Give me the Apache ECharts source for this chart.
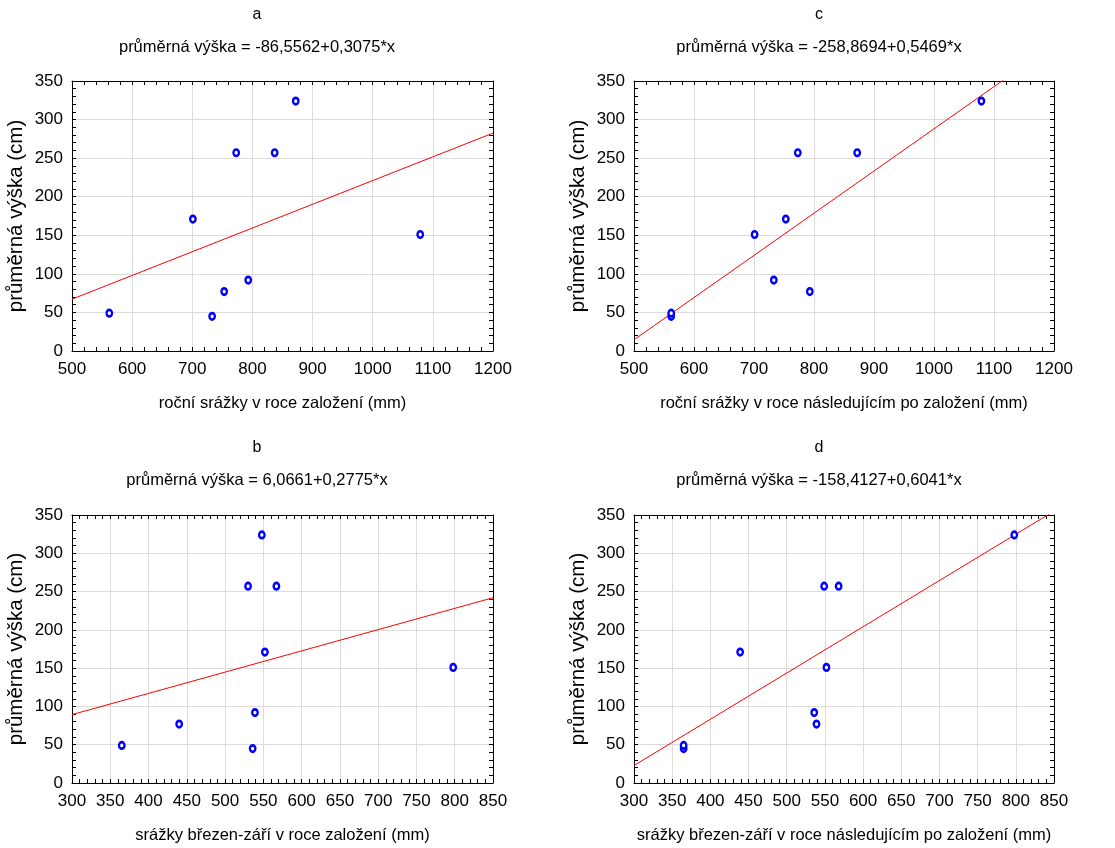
<!DOCTYPE html>
<html>
<head>
<meta charset="utf-8">
<script src="https://cdn.jsdelivr.net/npm/echarts@6/dist/echarts.min.js"></script>
<style>
  html, body { margin: 0; padding: 0; background: #fff; }
  #chart { width: 1115px; height: 848px; }
</style>
</head>
<body>
<div id="chart"></div>
<script>
// Average height of the plantings (cm), same planting order in every panel
const heights = [45, 49, 77, 92, 151, 171, 257, 257, 324];

// Precipitation (mm) for each planting, one list per panel
const rainYearOfPlanting = [733, 562, 753, 793, 1079, 701, 773, 837, 872];       // a
const rainMarSepYearOfPlanting = [536, 365, 440, 539, 798, 552, 530, 567, 548];  // b
const rainYearAfterPlanting = [562, 562, 793, 733, 701, 753, 773, 872, 1079];    // c
const rainMarSepYearAfter = [365, 365, 539, 536, 552, 439, 549, 568, 798];       // d

// Fitted regressions: průměrná výška = intercept + slope * x
const panelLetters = ['a', 'c', 'b', 'd'];
const intercepts = [-86.5562, -258.8694, 6.0661, -158.4127];
const slopes = [0.3075, 0.5469, 0.2775, 0.6041];

// Axis ranges and tick steps
const xMins = [500, 500, 300, 300];
const xMaxs = [1200, 1200, 850, 850];
const xSteps = [100, 100, 50, 50];
const yMin = 0, yMax = 350, yStep = 50;

const xTitles = [
  'roční srážky v roce založení (mm)',
  'roční srážky v roce následujícím po založení (mm)',
  'srážky březen-září v roce založení (mm)',
  'srážky březen-září v roce následujícím po založení (mm)'
];
const yTitle = 'průměrná výška (cm)';
const xSeries = [rainYearOfPlanting, rainYearAfterPlanting, rainMarSepYearOfPlanting, rainMarSepYearAfter];

const FONT = '"Liberation Sans", Arial, sans-serif';

const grids = [
  { left: 72, top: 81, width: 421, height: 270 },
  { left: 634, top: 81, width: 420, height: 270 },
  { left: 72, top: 515, width: 421, height: 268 },
  { left: 634, top: 515, width: 420, height: 268 }
];
const headerX = [257, 819, 257, 819];
const headerY = [15, 15, 448, 448];

const tickCommon = {
  axisLine: { show: true, onZero: false, lineStyle: { color: '#000', width: 1 } },
  axisTick: { show: true, inside: true, length: 4, lineStyle: { color: '#000', width: 1 } },
  minorTick: { show: true, splitNumber: 5, length: 4, lineStyle: { color: '#000', width: 1 } }
};

const plain = v => String(v);

const xAxis = [], yAxis = [], series = [], graphic = [];

function fmt(v) { return v.toFixed(4).replace('.', ','); }

for (let i = 0; i < 4; i++) {
  // bottom axis with labels and title
  xAxis.push(Object.assign({
    type: 'value', gridIndex: i, position: 'bottom',
    min: xMins[i], max: xMaxs[i], interval: xSteps[i],
    axisLabel: { margin: 10, color: '#000', fontSize: 17, fontFamily: FONT, formatter: plain },
    splitLine: { show: true, lineStyle: { color: '#dcdcdc', width: 1 } },
    name: xTitles[i], nameLocation: 'middle', nameGap: 44,
    nameTextStyle: { color: '#000', fontSize: 16.5, fontFamily: FONT }
  }, tickCommon));
  // top frame axis, ticks only
  xAxis.push(Object.assign({
    type: 'value', gridIndex: i, position: 'top',
    min: xMins[i], max: xMaxs[i], interval: xSteps[i],
    axisLabel: { show: false }, splitLine: { show: false }
  }, tickCommon));
  // left axis with labels and title
  yAxis.push(Object.assign({
    type: 'value', gridIndex: i, position: 'left',
    min: yMin, max: yMax, interval: yStep,
    axisLabel: { margin: 9, color: '#000', fontSize: 17, fontFamily: FONT, formatter: plain },
    splitLine: { show: true, lineStyle: { color: '#dcdcdc', width: 1 } },
    name: yTitle, nameLocation: 'middle', nameGap: 45, nameRotate: 90,
    nameTextStyle: { color: '#000', fontSize: 20.5, fontFamily: FONT }
  }, tickCommon));
  // right frame axis, ticks only
  yAxis.push(Object.assign({
    type: 'value', gridIndex: i, position: 'right',
    min: yMin, max: yMax, interval: yStep,
    axisLabel: { show: false }, splitLine: { show: false }
  }, tickCommon));

  // regression line from the stated equation
  const x0 = xMins[i], x1 = xMaxs[i];
  series.push({
    type: 'line', xAxisIndex: 2 * i, yAxisIndex: 2 * i,
    data: [[x0, intercepts[i] + slopes[i] * x0], [x1, intercepts[i] + slopes[i] * x1]],
    symbol: 'none', clip: true, silent: true, z: 2,
    lineStyle: { color: '#ff0000', width: 1 }
  });
  // observations
  series.push({
    type: 'scatter', xAxisIndex: 2 * i, yAxisIndex: 2 * i,
    data: xSeries[i].map((x, k) => [x, heights[k]]),
    symbol: 'circle', symbolSize: [5.5, 6.5], z: 3,
    itemStyle: { color: '#ffffff', borderColor: '#0000ff', borderWidth: 2.5, opacity: 1 }
  });

  // panel letter and equation
  graphic.push({
    type: 'text', x: headerX[i], y: headerY[i],
    style: { text: panelLetters[i], fill: '#000', font: '16px ' + FONT,
             align: 'center', verticalAlign: 'middle', textAlign: 'center', textVerticalAlign: 'middle' }
  });
  const eq = 'průměrná výška = ' + fmt(intercepts[i]) + '+' + fmt(slopes[i]) + '*x';
  graphic.push({
    type: 'text', x: headerX[i], y: headerY[i] + 32,
    style: { text: eq, fill: '#000', font: '16.5px ' + FONT,
             align: 'center', verticalAlign: 'middle', textAlign: 'center', textVerticalAlign: 'middle' }
  });
}

const chart = echarts.init(document.getElementById('chart'), null, { renderer: 'canvas' });
chart.setOption({
  animation: false,
  backgroundColor: '#ffffff',
  grid: grids,
  xAxis: xAxis,
  yAxis: yAxis,
  series: series,
  graphic: graphic
});
</script>
</body>
</html>
